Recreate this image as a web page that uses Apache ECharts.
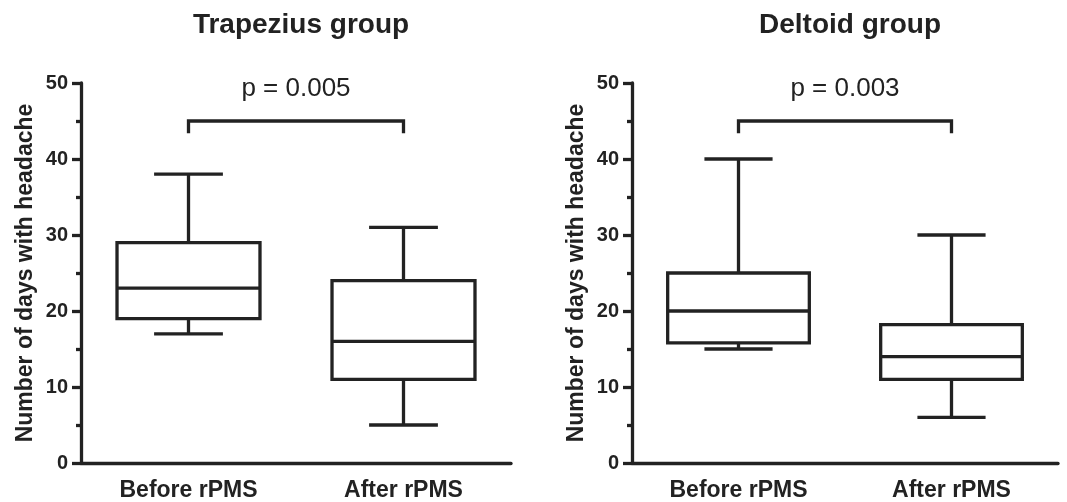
<!DOCTYPE html>
<html>
<head>
<meta charset="utf-8">
<script src="https://cdn.jsdelivr.net/npm/echarts@6/dist/echarts.min.js"></script>
<style>
html,body{margin:0;padding:0;background:#fff;}
#chart{width:1067px;height:502px;}
</style>
</head>
<body>
<div id="chart"></div>
<script>
// ---- data ----
const categories = ['Before rPMS', 'After rPMS'];
const panelTitles = ['Trapezius group', 'Deltoid group'];
// [min, Q1, median, Q3, max]
const trapeziusBox = [[17, 19, 23, 29, 38], [5, 11, 16, 24, 31]];
const deltoidBox = [[15, 15.8, 20, 25, 40], [6, 11, 14, 18.2, 30]];
const pValues = ['p = 0.005', 'p = 0.003'];
const bracketTop = [45, 45];
const bracketFoot = [43.4, 43.4];
const pTextY = [47.5, 47.5];
const yMin = 0, yMax = 50, yInterval = 10;
const yAxisName = 'Number of days with headache';

// ---- style ----
const INK = '#222';
const FONT = '"Liberation Sans", Arial, Helvetica, sans-serif';
const LW = 3.3;

const panels = [
  { box: trapeziusBox, grid: { left: 81, right: 556, top: 83, bottom: 38 }, titleX: 296 },
  { box: deltoidBox,  grid: { left: 632, right: 9,   top: 83, bottom: 38 }, titleX: 845 }
];

function boxRender(params, api) {
  const idx = api.value(0);
  const vmin = api.value(1), q1 = api.value(2), med = api.value(3), q3 = api.value(4), vmax = api.value(5);
  const band = api.size([1, 0])[0];
  const cx = api.coord([idx, med])[0];
  const bw = band * 0.665, cw = band * 0.32;
  const y = v => api.coord([idx, v])[1];
  const st = { stroke: INK, lineWidth: LW, fill: null, lineJoin: 'miter' };
  return {
    type: 'group',
    children: [
      { type: 'rect', shape: { x: cx - bw / 2, y: y(q3), width: bw, height: y(q1) - y(q3) }, style: st },
      { type: 'line', shape: { x1: cx - bw / 2, y1: y(med), x2: cx + bw / 2, y2: y(med) }, style: st },
      { type: 'line', shape: { x1: cx, y1: y(q3), x2: cx, y2: y(vmax) }, style: st },
      { type: 'line', shape: { x1: cx, y1: y(q1), x2: cx, y2: y(vmin) }, style: st },
      { type: 'line', shape: { x1: cx - cw / 2, y1: y(vmax), x2: cx + cw / 2, y2: y(vmax) }, style: st },
      { type: 'line', shape: { x1: cx - cw / 2, y1: y(vmin), x2: cx + cw / 2, y2: y(vmin) }, style: st }
    ]
  };
}

function makeBracketRender(p) {
  return function (params, api) {
    const a0 = api.coord([0, bracketFoot[p]]);
    const a1 = api.coord([0, bracketTop[p]]);
    const b1 = api.coord([1, bracketTop[p]]);
    const b0 = api.coord([1, bracketFoot[p]]);
    const ty = api.coord([0, pTextY[p]])[1];
    const tx = (a1[0] + b1[0]) / 2;
    return {
      type: 'group',
      children: [
        { type: 'polyline', shape: { points: [a0, a1, b1, b0] },
          style: { stroke: INK, lineWidth: LW, fill: null, lineJoin: 'miter' } },
        { type: 'text', x: tx, y: ty,
          style: { text: pValues[p], fill: INK, font: '26px ' + FONT, textAlign: 'center', textVerticalAlign: 'bottom' } }
      ]
    };
  };
}

const option = {
  backgroundColor: '#fff',
  animation: false,
  title: panels.map((pn, i) => ({
    text: panelTitles[i], left: pn.titleX, top: 6, textAlign: 'center',
    textStyle: { fontFamily: FONT, fontWeight: 'bold', fontSize: 28, color: INK }
  })),
  grid: panels.map(pn => Object.assign({ containLabel: false }, pn.grid)),
  xAxis: panels.map((pn, i) => ({
    type: 'category', gridIndex: i, data: categories,
    axisLine: { lineStyle: { color: INK, width: LW } },
    axisTick: { alignWithLabel: true, length: 8, lineStyle: { color: INK, width: LW } },
    axisLabel: { color: INK, fontFamily: FONT, fontWeight: 'bold', fontSize: 23, margin: 16 },
    splitLine: { show: false }
  })),
  yAxis: panels.map((pn, i) => ({
    type: 'value', gridIndex: i, min: yMin, max: yMax, interval: yInterval,
    name: yAxisName, nameLocation: 'middle', nameGap: 44,
    nameTextStyle: { color: INK, fontFamily: FONT, fontWeight: 'bold', fontSize: 23 },
    axisLine: { show: true, lineStyle: { color: INK, width: LW } },
    axisTick: { show: true, length: 9, lineStyle: { color: INK, width: LW } },
    minorTick: { show: true, splitNumber: 2, length: 5, lineStyle: { color: INK, width: LW } },
    axisLabel: { color: INK, fontFamily: FONT, fontWeight: 'bold', fontSize: 20, margin: 13 },
    splitLine: { show: false }
  })),
  series: [].concat(
    panels.map((pn, i) => ({
      type: 'custom', xAxisIndex: i, yAxisIndex: i,
      renderItem: boxRender,
      encode: { x: 0, y: [1, 2, 3, 4, 5] },
      data: pn.box.map((b, k) => [k].concat(b)),
      silent: true
    })),
    panels.map((pn, i) => ({
      type: 'custom', xAxisIndex: i, yAxisIndex: i,
      renderItem: makeBracketRender(i),
      encode: { x: 0, y: 1 },
      data: [[0, bracketTop[i]]],
      silent: true
    }))
  )
};

const chart = echarts.init(document.getElementById('chart'), null, { renderer: 'canvas' });
chart.setOption(option);
</script>
</body>
</html>
